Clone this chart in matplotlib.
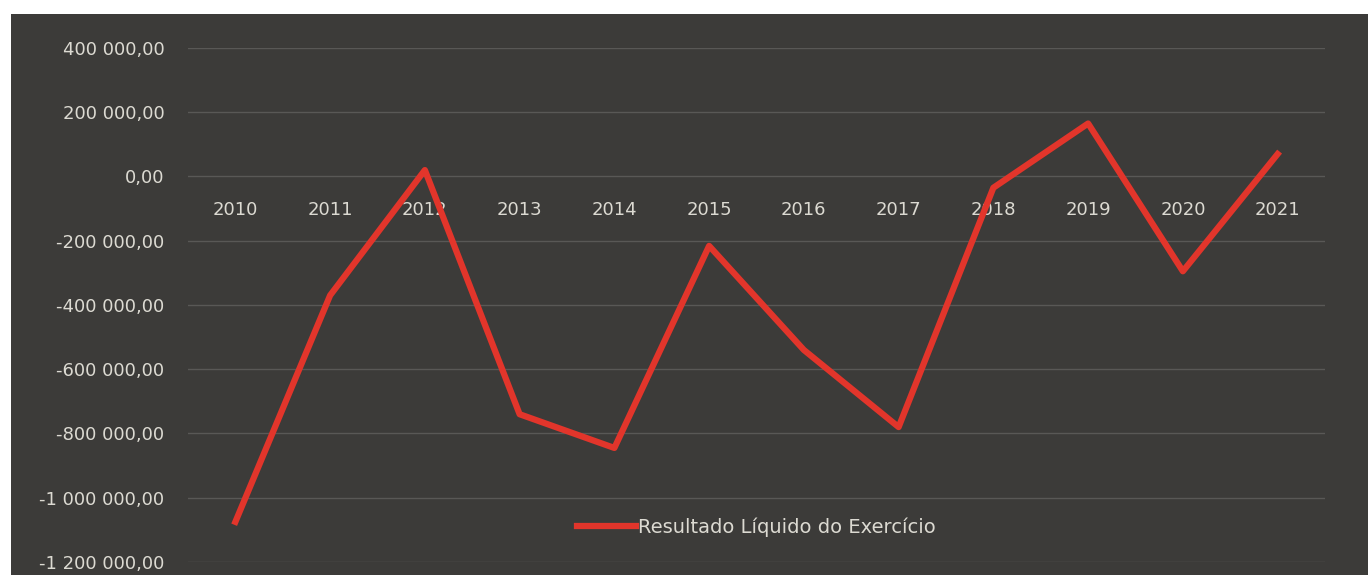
import matplotlib
matplotlib.use("Agg")
import matplotlib.pyplot as plt
from matplotlib.patches import Rectangle
from matplotlib.ticker import FuncFormatter, MultipleLocator

years = ["2010", "2011", "2012", "2013", "2014", "2015",
         "2016", "2017", "2018", "2019", "2020", "2021"]
resultado = [-1075000, -370000, 20000, -740000, -845000, -216000,
             -540000, -780000, -35000, 165000, -295000, 70000]
series_name = "Resultado Líquido do Exercício"

BG = "#3c3b39"
TXT = "#dcdad2"
RED = "#e2352b"

fig = plt.figure(figsize=(13.68, 5.79), dpi=100, facecolor="white")
# dark chart area behind the axes
fig.patches.append(Rectangle((11 / 1368, 4 / 579), 1, 1 - 18 / 579,
                             transform=fig.transFigure, fc=BG, ec="none", zorder=-10))

ax = fig.add_axes([188 / 1368, 1 - 562 / 579, (1325 - 188) / 1368, (562 - 48) / 579])
ax.set_zorder(5)
ax.set_facecolor("none")

x = range(len(years))
ax.plot(x, resultado, color=RED, lw=4.5, label=series_name, zorder=3)

ax.set_xlim(-0.5, len(years) - 0.5)
ax.set_ylim(-1200000, 400000)
ax.yaxis.set_major_locator(MultipleLocator(200000))


def br_fmt(v, _):
    s = f"{v:,.2f}"
    return s.replace(",", " ").replace(".", ",")


ax.yaxis.set_major_formatter(FuncFormatter(br_fmt))
ax.grid(axis="y", color="#595856", lw=1.0)
ax.set_axisbelow(True)

ax.set_xticks(list(x))
ax.set_xticklabels(years)
ax.spines["bottom"].set_position(("data", 0))
for s in ax.spines.values():
    s.set_visible(False)
ax.tick_params(axis="x", length=0, pad=18, labelsize=13, labelcolor=TXT)
ax.tick_params(axis="y", length=0, pad=17, labelsize=13, labelcolor=TXT)

leg = ax.legend(loc="center", bbox_to_anchor=(0.5, 0.068), frameon=False,
                handlelength=3.0, handletextpad=0.1, fontsize=14)
for t in leg.get_texts():
    t.set_color(TXT)

fig.savefig("out.png", dpi=100, facecolor=fig.get_facecolor())
